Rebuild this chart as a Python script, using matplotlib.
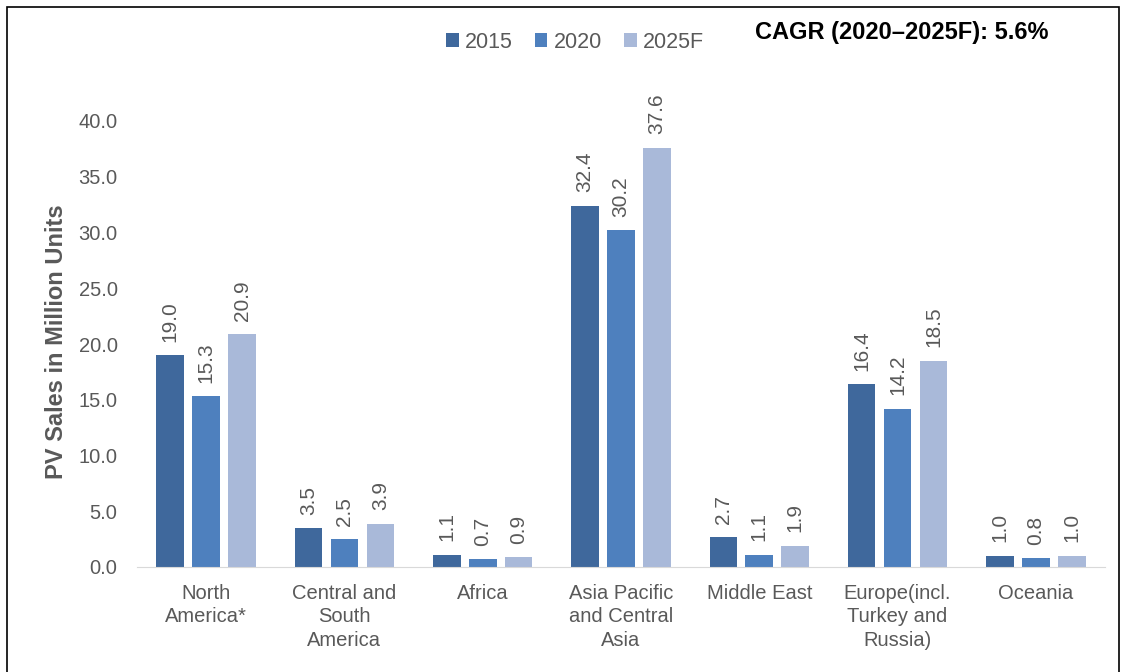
import numpy as np
import matplotlib.pyplot as plt
from matplotlib.patches import Rectangle

plt.rcParams['font.family'] = ['Liberation Sans', 'DejaVu Sans']

regions = ["North\nAmerica*", "Central and\nSouth\nAmerica", "Africa",
           "Asia Pacific\nand Central\nAsia", "Middle East",
           "Europe(incl.\nTurkey and\nRussia)", "Oceania"]
sales_2015 = [19.0, 3.5, 1.1, 32.4, 2.7, 16.4, 1.0]
sales_2020 = [15.3, 2.5, 0.7, 30.2, 1.1, 14.2, 0.8]
sales_2025f = [20.9, 3.9, 0.9, 37.6, 1.9, 18.5, 1.0]
series = ["2015", "2020", "2025F"]
colors = ["#3F689C", "#4E80BE", "#A9B9D9"]
grey = "#595959"

fig = plt.figure(figsize=(11.27, 6.72), dpi=100)
ax = fig.add_axes([137 / 1127, 1 - 567 / 672, 968 / 1127, 446 / 672 * 44 / 40])

x = np.arange(len(regions))
width = 0.2
step = 0.26
for i, (name, vals, c) in enumerate(zip(series, [sales_2015, sales_2020, sales_2025f], colors)):
    bars = ax.bar(x + (i - 1) * step, vals, width, color=c, label=name)
    for b, v in zip(bars, vals):
        ax.text(b.get_x() + b.get_width() / 2, v + 1.2, f"{v:.1f}", rotation=90,
                ha="center", va="bottom", fontsize=15, color=grey)

ax.set_xlim(-0.5, len(regions) - 0.5)
ax.set_ylim(0, 44)
ax.set_yticks(np.arange(0, 41, 5))
ax.set_yticklabels([f"{t:.1f}" for t in np.arange(0, 41, 5)])
ax.set_xticks(x)
ax.set_xticklabels(regions, linespacing=1.3)
ax.tick_params(axis="both", length=0, labelsize=14.5, colors=grey)
ax.tick_params(axis="y", pad=14)
ax.tick_params(axis="x", pad=12)
for side in ["top", "right", "left"]:
    ax.spines[side].set_visible(False)
ax.spines["bottom"].set_color("#D9D9D9")
ax.set_ylabel("PV Sales in Million Units", fontsize=17, fontweight="bold",
              color=grey)
ax.yaxis.set_label_coords(-0.071, 0.459)

fig.legend(loc="center", bbox_to_anchor=(575 / 1127, 1 - 42 / 672), ncol=3,
           frameon=False, fontsize=15.5, labelcolor=grey, handlelength=0.6,
           handleheight=0.6, handletextpad=0.3, columnspacing=1.0)
fig.text(755 / 1127, 1 - 33 / 672, "CAGR (2020\u20132025F): 5.6%", fontsize=17,
         fontweight="bold", va="center", ha="left")

fig.patches.append(Rectangle((7 / 1127, -0.05), 1112 / 1127, 1.05 - 7 / 672,
                             transform=fig.transFigure, fill=False,
                             edgecolor="black", linewidth=1.2))

fig.savefig("out.png", dpi=100)
